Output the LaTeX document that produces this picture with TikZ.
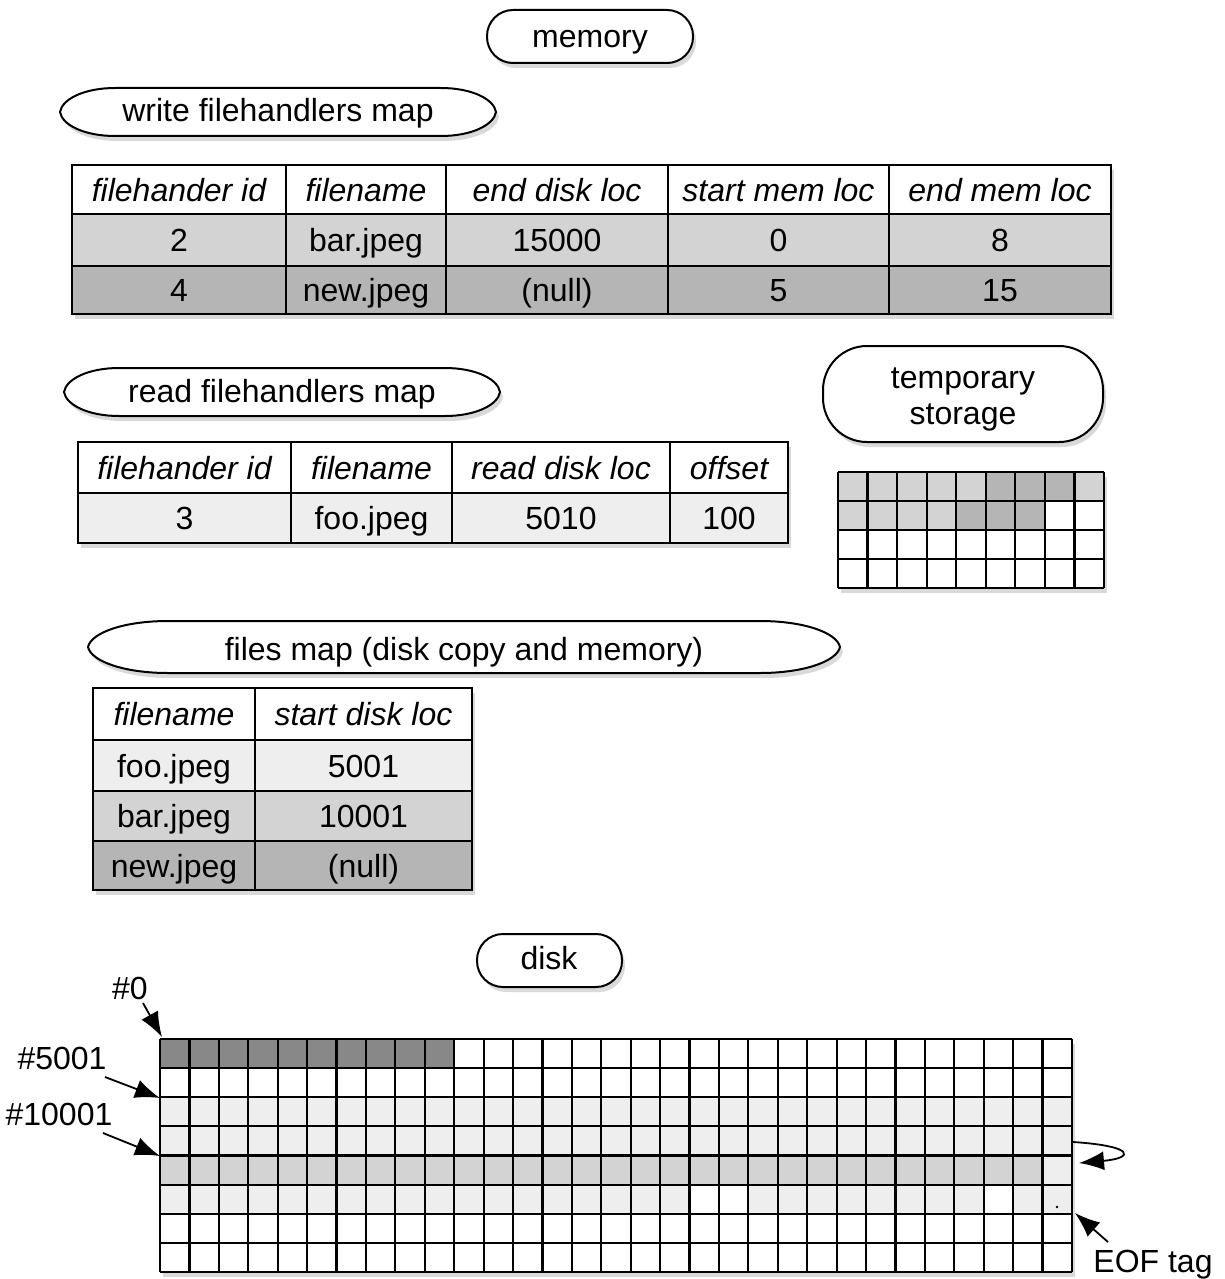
\documentclass[tikz,border=0pt]{standalone}
\usepackage{fontspec}
\setmainfont{Liberation Sans}
\usetikzlibrary{shadows,arrows.meta}
\definecolor{gA}{HTML}{EEEEEE}
\definecolor{gB}{HTML}{D3D3D3}
\definecolor{gC}{HTML}{B5B5B5}
\definecolor{gD}{HTML}{888888}
\tikzset{
  every node/.style={font=\fontsize{32}{36}\selectfont},
  shad/.style={drop shadow={shadow xshift=3pt,shadow yshift=-5pt,opacity=0.3}},
  lbl/.style={inner sep=0pt,text height=23pt,text depth=0pt},
  cell/.style={lbl,draw=black,line width=2pt},
  shapestyle/.style={draw,line width=2pt,fill=white,shad},
  gridline/.style={line width=2.2pt},
  arr/.style={line width=1.8pt,-{Latex[length=25pt,width=19pt]}},
}
% name, x1, y1, x2, y2, fill, text
\newcommand\tcell[7]{\node[cell,fill=#6,minimum width={(#4)-(#2)},minimum height={(#5)-(#3)}] (#1) at ({((#2)+(#4))/2},{((#3)+(#5))/2}) {#7};}
% x1, y1, x2, y2, end radius : flattened oval outline
\newcommand\ovalshape[5]{%
 \pgfmathsetmacro\oym{(#2+#4)/2}\pgfmathsetmacro\ohh{(#4-#2)/2}%
 \pgfmathsetmacro\oa{#1+#5}\pgfmathsetmacro\ob{#3-#5}%
 \pgfmathsetmacro\oca{#1+0.04*#5}\pgfmathsetmacro\ocb{#1+0.45*#5}%
 \pgfmathsetmacro\occ{#3-0.04*#5}\pgfmathsetmacro\ocd{#3-0.45*#5}%
 \pgfmathsetmacro\oup{\oym-0.55*\ohh}\pgfmathsetmacro\odn{\oym+0.55*\ohh}%
 \path[shapestyle] (#1,\oym) .. controls (\oca,\oup) and (\ocb,#2) .. (\oa,#2) -- (\ob,#2)
   .. controls (\ocd,#2) and (\occ,\oup) .. (#3,\oym)
   .. controls (\occ,\odn) and (\ocd,#4) .. (\ob,#4) -- (\oa,#4)
   .. controls (\ocb,#4) and (\oca,\odn) .. (#1,\oym) -- cycle;}
\begin{document}
\begin{tikzpicture}[x=1pt,y=-1pt]
\useasboundingbox (0,0) rectangle (1225,1279);

% ---- memory heading
\path[shapestyle,rounded corners=26pt] (487,10) rectangle (693,63);
\node[lbl] (mem) at (590,36.5) {memory};

% ---- write filehandlers map
\ovalshape{60}{88}{496}{136}{55}
\node[lbl] (wmap) at (278,110.5) {write filehandlers map};
\path[fill=white,shad] (72,165) rectangle (1111,314);
\tcell{wh1}{72}{165}{286}{214}{white}{\itshape filehander id}
\tcell{wh2}{286}{165}{446}{214}{white}{\itshape filename}
\tcell{wh3}{446}{165}{668}{214}{white}{\itshape end disk loc}
\tcell{wh4}{668}{165}{889}{214}{white}{\itshape start mem loc}
\tcell{wh5}{889}{165}{1111}{214}{white}{\itshape end mem loc}
\tcell{wa1}{72}{214}{286}{266}{gB}{2}
\tcell{wa2}{286}{214}{446}{266}{gB}{bar.jpeg}
\tcell{wa3}{446}{214}{668}{266}{gB}{15000}
\tcell{wa4}{668}{214}{889}{266}{gB}{0}
\tcell{wa5}{889}{214}{1111}{266}{gB}{8}
\tcell{wb1}{72}{266}{286}{314}{gC}{4}
\tcell{wb2}{286}{266}{446}{314}{gC}{new.jpeg}
\tcell{wb3}{446}{266}{668}{314}{gC}{(null)}
\tcell{wb4}{668}{266}{889}{314}{gC}{5}
\tcell{wb5}{889}{266}{1111}{314}{gC}{15}

% ---- read filehandlers map
\ovalshape{64}{368}{500}{416}{55}
\node[lbl] (rmap) at (282,390.5) {read filehandlers map};
\path[fill=white,shad] (78,442) rectangle (788,543);
\tcell{rh1}{78}{442}{291}{493}{white}{\itshape filehander id}
\tcell{rh2}{291}{442}{452}{493}{white}{\itshape filename}
\tcell{rh3}{452}{442}{670}{493}{white}{\itshape read disk loc}
\tcell{rh4}{670}{442}{788}{493}{white}{\itshape offset}
\tcell{ra1}{78}{493}{291}{543}{gA}{3}
\tcell{ra2}{291}{493}{452}{543}{gA}{foo.jpeg}
\tcell{ra3}{452}{493}{670}{543}{gA}{5010}
\tcell{ra4}{670}{493}{788}{543}{gA}{100}

% ---- temporary storage
\path[shapestyle,rounded corners=44pt] (823,346) rectangle (1103,442);
\node[align=center,inner sep=0pt] (tmp) at (963,399) {temporary\\storage};
\def\tx{29.556}\def\ty{29}
\path[fill=white,shad] (838,472) rectangle (1104,588);
\foreach \c in {0,...,4,8} \fill[gB] ({838+\c*\tx},472) rectangle +(\tx,\ty);
\foreach \c in {5,6,7} \fill[gC] ({838+\c*\tx},472) rectangle +(\tx,\ty);
\foreach \c in {0,...,3} \fill[gB] ({838+\c*\tx},{472+\ty}) rectangle +(\tx,\ty);
\foreach \c in {4,5,6} \fill[gC] ({838+\c*\tx},{472+\ty}) rectangle +(\tx,\ty);
\foreach \i in {0,...,9} \draw[gridline] ({838+\i*\tx},472) -- ++(0,116);
\foreach \j in {0,...,4} \draw[gridline] (838,{472+\j*\ty}) -- ++(266,0);

% ---- files map
\ovalshape{88}{621}{840}{673}{80}
\node[lbl] (fmap) at (464,648.5) {files map (disk copy and memory)};
\path[fill=white,shad] (93,688) rectangle (472,890);
\tcell{fh1}{93}{688}{255}{740}{white}{\itshape filename}
\tcell{fh2}{255}{688}{472}{740}{white}{\itshape start disk loc}
\tcell{fa1}{93}{740}{255}{791}{gA}{foo.jpeg}
\tcell{fa2}{255}{740}{472}{791}{gA}{5001}
\tcell{fb1}{93}{791}{255}{841}{gB}{bar.jpeg}
\tcell{fb2}{255}{791}{472}{841}{gB}{10001}
\tcell{fc1}{93}{841}{255}{890}{gC}{new.jpeg}
\tcell{fc2}{255}{841}{472}{890}{gC}{(null)}

% ---- disk
\path[shapestyle,rounded corners=26pt] (477,934) rectangle (622,987);
\node[lbl] (disk) at (549,957.5) {disk};
\def\dx{29.419}\def\dy{29.125}
\path[fill=white,shad] (160,1039) rectangle (1072,1272);
\foreach \c in {0,...,9} \fill[gD] ({160+\c*\dx},1039) rectangle +(\dx,\dy);
\fill[gA] (160,{1039+2*\dy}) rectangle (1072,{1039+4*\dy});
\fill[gB] (160,{1039+4*\dy}) rectangle ({160+30*\dx},{1039+5*\dy});
\fill[gA] ({160+30*\dx},{1039+4*\dy}) rectangle (1072,{1039+5*\dy});
\fill[gA] (160,{1039+5*\dy}) rectangle (1072,{1039+6*\dy});
\foreach \c in {18,19,28} \fill[white] ({160+\c*\dx},{1039+5*\dy}) rectangle +(\dx,\dy);
\foreach \i in {0,...,31} \draw[gridline] ({160+\i*\dx},1039) -- ++(0,233);
\foreach \j in {0,...,8} \draw[gridline] (160,{1039+\j*\dy}) -- ++(912,0);
\fill (1057,1207) circle (1.3pt);

% ---- labels and arrows
\node[lbl] (l0) at (130,988) {\#0};
\node[lbl] (l5001) at (62,1058) {\#5001};
\node[lbl] (l10001) at (59,1114) {\#10001};
\node[lbl] (leof) at (1153,1261) {EOF tag};
\coordinate (t0) at (143,1003);
\coordinate (d0) at (162,1037);
\coordinate (t5001) at (105,1077);
\coordinate (d5001) at (160,1098);
\coordinate (t10001) at (103,1133);
\coordinate (d10001) at (160,1156);
\coordinate (teof) at (1108,1242);
\coordinate (deof) at (1075,1213);
\coordinate (lp1) at (1073,1142);
\coordinate (lp2) at (1079,1163);
\draw[arr] (t0) -- (d0);
\draw[arr] (t5001) -- (d5001);
\draw[arr] (t10001) -- (d10001);
\draw[arr] (teof) -- (deof);
\draw[arr] (lp1) .. controls (1135,1146) and (1135,1158) .. (lp2);
\end{tikzpicture}
\end{document}
